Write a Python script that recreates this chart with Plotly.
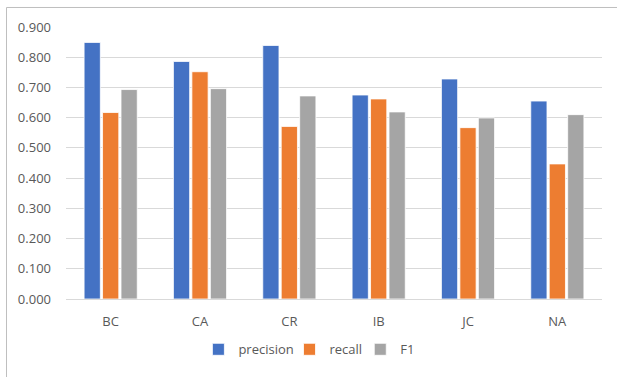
import plotly.graph_objects as go

categories = ["BC", "CA", "CR", "IB", "JC", "NA"]
precision = [0.849, 0.786, 0.839, 0.675, 0.728, 0.655]
recall = [0.617, 0.752, 0.571, 0.662, 0.567, 0.447]
f1 = [0.693, 0.696, 0.672, 0.619, 0.599, 0.610]
y_ticks = [0.0, 0.1, 0.2, 0.3, 0.4, 0.5, 0.6, 0.7, 0.8, 0.9]

series = [("precision", precision, "#4472C4", "legend", 0.247),
          ("recall", recall, "#ED7D31", "legend2", 0.417),
          ("F1", f1, "#A5A5A5", "legend3", 0.549)]

fig = go.Figure()
for name, vals, col, leg, _ in series:
    fig.add_trace(go.Bar(x=categories, y=vals, name=name, legend=leg,
                         marker=dict(color=col, line=dict(color="white", width=0.8))))

font_family = "Open Sans, Liberation Sans, sans-serif"
legend_common = dict(orientation="h", xanchor="left", y=-0.13, yanchor="top",
                     font=dict(size=13, color="#595959"), itemwidth=30,
                     bgcolor="rgba(0,0,0,0)")
legends = {}
for name, vals, col, leg, lx in series:
    legends[leg] = dict(legend_common, x=lx)

fig.update_layout(
    width=617, height=377,
    margin=dict(l=66, r=15, t=27, b=78),
    paper_bgcolor="white", plot_bgcolor="white",
    barmode="group", bargap=0.38, bargroupgap=0.12,
    font=dict(family=font_family, size=13, color="#595959"),
    showlegend=True,
    **legends,
)
fig.update_yaxes(range=[0, 0.9], tickvals=y_ticks, tickformat=".3f",
                 showgrid=True, gridcolor="#D9D9D9", gridwidth=1,
                 zeroline=False, showline=False, ticks="",
                 tickfont=dict(size=13, color="#595959"), ticklabelstandoff=14)
fig.update_xaxes(showgrid=False, showline=True, linecolor="#D9D9D9", linewidth=1,
                 ticks="", tickfont=dict(size=13, color="#595959"), ticklabelstandoff=10)

fig.add_shape(type="rect", xref="paper", yref="paper",
              x0=-0.111, x1=1.04, y0=-0.32, y1=1.0717,
              line=dict(color="#BFBFBF", width=1), fillcolor="rgba(0,0,0,0)", layer="below")

fig.write_html("out.html", config={"displayModeBar": False},
               post_script="document.body.style.margin='0';document.body.style.overflow='hidden';")
